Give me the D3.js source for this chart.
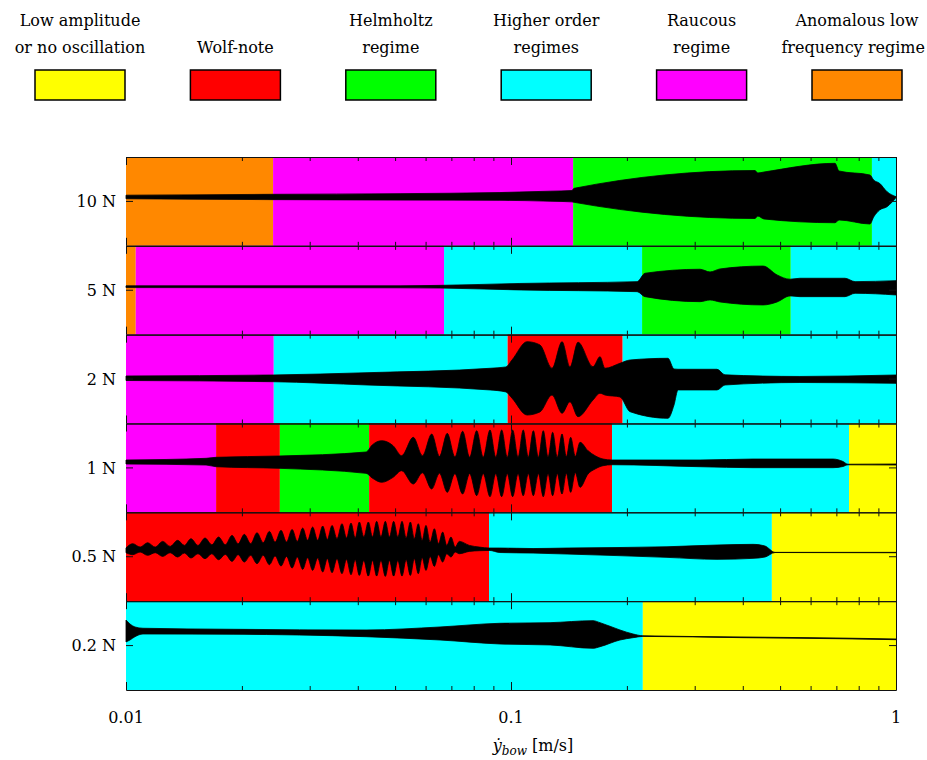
<!DOCTYPE html>
<html>
<head>
<meta charset="utf-8">
<script src="https://cdn.jsdelivr.net/npm/d3@7"></script>
<style>
  body { margin: 0; background: #fff; }
  text { font-family: "DejaVu Serif", serif; fill: #000; }
</style>
</head>
<body>
<div class="canvas"></div>
<script>
// regimes: 0 low amp, 1 wolf, 2 helmholtz, 3 higher order, 4 raucous, 5 anomalous
const regimeLabels = [
  ["Low amplitude", "or no oscillation"],
  ["Wolf-note"],
  ["Helmholtz", "regime"],
  ["Higher order", "regimes"],
  ["Raucous", "regime"],
  ["Anomalous low", "frequency regime"],
];
const regimeColors = ["#ffff00", "#ff0000", "#00ff00", "#00ffff", "#ff00ff", "#ff8800"];

const rowLabels = ["10 N", "5 N", "2 N", "1 N", "0.5 N", "0.2 N"];

// [from, to, regime] in m/s
const bands10N = [[0.01, 0.0241, 5], [0.0241, 0.145, 4], [0.145, 0.866, 2], [0.866, 1, 3]];
const bands5N = [[0.01, 0.0106, 5], [0.0106, 0.067, 4], [0.067, 0.219, 3], [0.219, 0.533, 2], [0.533, 1, 3]];
const bands2N = [[0.01, 0.0242, 4], [0.0242, 0.098, 3], [0.098, 0.195, 1], [0.195, 1, 3]];
const bands1N = [[0.01, 0.01714, 4], [0.01714, 0.0251, 1], [0.0251, 0.0428, 2], [0.0428, 0.183, 1], [0.183, 0.755, 3], [0.755, 1, 0]];
const bands05N = [[0.01, 0.0877, 1], [0.0877, 0.476, 3], [0.476, 1, 0]];
const bands02N = [[0.01, 0.22, 3], [0.22, 1, 0]];

// waveform envelope: [velocity, upper, lower] (normalised amplitude)
const env10N = [
  [0.01, 0.14, 0.06], [0.0241, 0.16, 0.04], [0.0515, 0.175, 0.03], [0.0936, 0.2, 0.025],
  [0.1263, 0.23, 0.005], [0.144, 0.245, -0.01], [0.1458, 0.295, -0.02], [0.4303, 0.696, -0.385],
  [0.4375, 0.64, -0.33], [0.4541, 0.662, -0.396], [0.6943, 0.858, -0.48], [0.7113, 0.685, -0.419],
  [0.8557, 0.595, -0.509], [0.8749, 0.482, -0.351], [0.9065, 0.408, -0.194], [0.948, 0.218, -0.119],
  [1.0, 0.106, 0.088],
];
const env5N = [
  [0.01, 0.1, 0.06], [0.0515, 0.1, 0.055], [0.0654, 0.11, 0.05], [0.1055, 0.153, 0.007],
  [0.2126, 0.194, -0.032], [0.2229, 0.383, -0.144], [0.3097, 0.473, -0.257], [0.3288, 0.412, -0.218],
  [0.3491, 0.48, -0.264], [0.4515, 0.545, -0.331], [0.4909, 0.345, -0.264], [0.5305, 0.248, -0.128],
  [0.563, 0.27, -0.144], [0.737, 0.27, -0.144], [0.7827, 0.194, -0.068], [1.0, 0.216, -0.106],
];
const env2N = [
  [0.01, 0.07, -0.032], [0.0241, 0.092, -0.059], [0.04227, 0.144, -0.133], [0.0882, 0.243, -0.245],
  [0.097, 0.273, -0.29], [0.1006, 0.43, -0.43], [0.1101, 0.842, -0.809], [0.1189, 0.77, -0.74],
  [0.1278, 0.243, -0.358], [0.1357, 0.842, -0.77], [0.1423, 0.273, -0.509], [0.1493, 0.829, -0.847],
  [0.1633, 0.279, -0.471], [0.1703, 0.505, -0.32], [0.1754, 0.243, -0.358], [0.1919, 0.356, -0.403],
  [0.2038, 0.43, -0.734], [0.2557, 0.468, -0.883], [0.2651, 0.227, -0.583], [0.2716, 0.221, -0.245],
  [0.3428, 0.221, -0.245], [0.3596, 0.095, -0.133], [0.563, 0.059, -0.077], [1.0, 0.092, -0.095],
];
const env1N = [
  [0.01, 0.178, 0.088], [0.01614, 0.216, 0.065], [0.01714, 0.239, 0.027], [0.02497, 0.268, -0.009],
  [0.04202, 0.358, -0.122], [0.0436, 0.516, -0.227], [0.04615, 0.613, -0.324], [0.0494, 0.5, -0.212],
  [0.052, 0.275, -0.063], [0.05574, 0.689, -0.363], [0.0589, 0.275, -0.11], [0.06223, 0.764, -0.475],
  [0.0652, 0.26, -0.12], [0.06831, 0.779, -0.55], [0.0715, 0.25, -0.13], [0.07489, 0.824, -0.588],
  [0.0781, 0.24, -0.13], [0.08145, 0.838, -0.626], [0.0847, 0.24, -0.13], [0.0882, 0.854, -0.649],
  [0.0913, 0.24, -0.13], [0.09458, 0.854, -0.649], [0.0978, 0.24, -0.13], [0.101, 0.854, -0.649],
  [0.1043, 0.24, -0.13], [0.1076, 0.854, -0.626], [0.1109, 0.24, -0.13], [0.1143, 0.838, -0.626],
  [0.1178, 0.24, -0.13], [0.1213, 0.838, -0.649], [0.1248, 0.24, -0.13], [0.1283, 0.802, -0.626],
  [0.1319, 0.24, -0.13], [0.1357, 0.764, -0.588], [0.1392, 0.25, -0.12], [0.1429, 0.689, -0.55],
  [0.1469, 0.26, -0.11], [0.1511, 0.577, -0.437], [0.1585, 0.387, -0.137], [0.1653, 0.275, -0.025],
  [0.1734, 0.2, 0.05], [0.1829, 0.178, 0.072], [0.3097, 0.178, 0.027], [0.4252, 0.2, 0.005],
  [0.6861, 0.2, 0.005], [0.7283, 0.144, 0.032], [0.7505, 0.083, 0.07], [1.0, 0.088, 0.065],
];
const env05N = [
  [0.01, 0.2, 0.09],
  [0.01041, 0.294, 0.046], [0.01088, 0.218, 0.106], [0.01138, 0.316, 0.031], [0.01191, 0.218, 0.091],
  [0.01245, 0.346, 0.008], [0.01302, 0.233, 0.091], [0.01362, 0.369, -0.007], [0.01418, 0.256, 0.083],
  [0.01475, 0.406, -0.029], [0.01538, 0.256, 0.068], [0.01604, 0.421, -0.044], [0.01671, 0.271, 0.068],
  [0.0174, 0.444, -0.067], [0.01811, 0.271, 0.053], [0.01885, 0.481, -0.104], [0.01956, 0.294, 0.046],
  [0.02029, 0.504, -0.119], [0.02108, 0.294, 0.031], [0.02189, 0.541, -0.157], [0.02272, 0.316, 0.031],
  [0.02357, 0.571, -0.179], [0.0244, 0.331, 0.016], [0.02527, 0.594, -0.209], [0.02612, 0.331, 0.008],
  [0.027, 0.616, -0.255], [0.02786, 0.346, -0.007], [0.02877, 0.646, -0.285], [0.02963, 0.369, -0.022],
  [0.03053, 0.669, -0.307], [0.03147, 0.369, -0.029], [0.03243, 0.691, -0.345], [0.03334, 0.391, -0.044],
  [0.03429, 0.706, -0.36], [0.03532, 0.406, -0.044], [0.03639, 0.744, -0.382], [0.03739, 0.421, -0.059],
  [0.03841, 0.759, -0.405], [0.03938, 0.421, -0.067], [0.04037, 0.782, -0.42], [0.04147, 0.444, -0.082],
  [0.0426, 0.782, -0.435], [0.04369, 0.444, -0.082], [0.04478, 0.797, -0.435], [0.04595, 0.444, -0.082],
  [0.04716, 0.797, -0.442], [0.04834, 0.444, -0.082], [0.04957, 0.797, -0.435], [0.05083, 0.444, -0.082],
  [0.05211, 0.797, -0.435], [0.05342, 0.421, -0.067], [0.05478, 0.782, -0.42], [0.05609, 0.406, -0.044],
  [0.05744, 0.744, -0.382], [0.05878, 0.369, -0.022], [0.06013, 0.706, -0.307], [0.06166, 0.331, 0.008],
  [0.06323, 0.631, -0.217], [0.06482, 0.294, 0.046], [0.06644, 0.556, -0.119], [0.06811, 0.256, 0.068],
  [0.06984, 0.444, -0.007], [0.07161, 0.218, 0.106], [0.0734, 0.346, 0.068],
  [0.07794, 0.256, 0.121], [0.08273, 0.218, 0.136], [0.08782, 0.196, 0.143], [0.0936, 0.196, 0.095],
  [0.1141, 0.185, 0.083], [0.1398, 0.196, 0.061], [0.2542, 0.225, -0.014], [0.3428, 0.264, -0.059],
  [0.4252, 0.279, -0.036], [0.4568, 0.241, -0.007], [0.485, 0.099, 0.095], [1.0, 0.099, 0.09],
];
const env02N = [
  [0.01, 0.574, 0.081], [0.01024, 0.486, 0.126], [0.01055, 0.419, 0.2], [0.01107, 0.39, 0.261],
  [0.01897, 0.367, 0.255], [0.04202, 0.351, 0.2], [0.0654, 0.419, 0.126], [0.0936, 0.502, 0.036],
  [0.1263, 0.516, 0.014], [0.1633, 0.561, -0.061], [0.1703, 0.516, -0.025], [0.1919, 0.351, 0.126],
  [0.2075, 0.261, 0.178], [0.22, 0.221, 0.207], [0.4005, 0.194, 0.178], [0.7027, 0.171, 0.155],
  [1.0, 0.149, 0.133],
];

const majorTicks = [0.01, 0.1, 1];
const xTickLabels = ["0.01", "0.1", "1"];

const rows = [
  { label: rowLabels[0], bands: bands10N, env: env10N },
  { label: rowLabels[1], bands: bands5N, env: env5N },
  { label: rowLabels[2], bands: bands2N, env: env2N },
  { label: rowLabels[3], bands: bands1N, env: env1N },
  { label: rowLabels[4], bands: bands05N, env: env05N },
  { label: rowLabels[5], bands: bands02N, env: env02N },
];

const margin = { top: 157, bottom: 70, left: 126, right: 31 };
const width = 927;
const height = 760;

const svg = d3
  .select(".canvas")
  .append("svg")
  .attr("width", width)
  .attr("height", height);

// scales
const x = d3.scaleLog().domain([0.01, 1]).range([margin.left, width - margin.right]);
const row = d3.scaleBand().domain(rowLabels).range([margin.top, height - margin.bottom]);
const y = d3.scaleLinear().domain([-1, 1]).range([row.bandwidth(), 0]);

const minorTicks = x.ticks().filter((t) => !majorTicks.includes(t));

// legend
const legendX = d3.scalePoint().domain(d3.range(regimeLabels.length)).range([80, 857]);
const legend = svg
  .selectAll(".legend")
  .data(regimeLabels)
  .enter()
  .append("g")
  .attr("class", "legend")
  .attr("transform", (d, i) => `translate(${legendX(i)},0)`);

legend
  .append("rect")
  .attr("x", -45)
  .attr("y", 70)
  .attr("width", 90)
  .attr("height", 30)
  .attr("fill", (d, i) => regimeColors[i])
  .attr("stroke", "#000")
  .attr("stroke-width", 1.5);

legend
  .selectAll("text")
  .data((d) => d.map((line, j) => ({ line, k: d.length - 1 - j })))
  .enter()
  .append("text")
  .attr("text-anchor", "middle")
  .attr("y", (d) => 53 - d.k * 27)
  .style("font-size", "16px")
  .text((d) => d.line);

// pull in any legend line that would run off the right edge
legend.selectAll("text").each(function () {
  const g = this.parentNode.getCTM();
  const b = this.getBBox();
  const over = g.e + b.x + b.width - (width - 2);
  if (over > 0) d3.select(this).attr("x", -over);
});

// area for the envelope
const area = d3
  .area()
  .x((d) => x(d[0]))
  .y0((d) => y(d[2]))
  .y1((d) => y(d[1]))
  .curve(d3.curveMonotoneX);

const panels = svg
  .selectAll(".panel")
  .data(rows)
  .enter()
  .append("g")
  .attr("class", "panel")
  .attr("transform", (d) => `translate(0,${row(d.label)})`);

// regime backgrounds
panels
  .selectAll("rect")
  .data((d) => d.bands)
  .enter()
  .append("rect")
  .attr("x", (d) => x(d[0]))
  .attr("width", (d) => x(d[1]) - x(d[0]))
  .attr("y", 0)
  .attr("height", row.bandwidth())
  .attr("fill", (d) => regimeColors[d[2]]);

// waveform envelope
panels
  .append("path")
  .attr("d", (d) => area(d.env))
  .attr("fill", "#000")
  .attr("stroke", "#000")
  .attr("stroke-width", 0.8);

// inward ticks on top and bottom edges
panels.each(function () {
  const g = d3.select(this);
  const addAxis = (axis, ty) =>
    g.append("g")
      .attr("transform", `translate(0,${ty})`)
      .call(axis.tickFormat("").tickSizeOuter(0))
      .call((a) => a.selectAll("line, path").attr("stroke", "#111"));
  addAxis(d3.axisBottom(x).tickValues(minorTicks).tickSize(4), 0);
  addAxis(d3.axisBottom(x).tickValues(majorTicks).tickSize(8), 0);
  addAxis(d3.axisTop(x).tickValues(minorTicks).tickSize(4), row.bandwidth());
  addAxis(d3.axisTop(x).tickValues(majorTicks).tickSize(8), row.bandwidth());
});

// zero ticks on both sides
panels
  .append("line")
  .attr("x1", x(0.01))
  .attr("x2", x(0.01) + 7)
  .attr("y1", y(0))
  .attr("y2", y(0))
  .attr("stroke", "#111");
panels
  .append("line")
  .attr("x1", x(1) - 7)
  .attr("x2", x(1))
  .attr("y1", y(0))
  .attr("y2", y(0))
  .attr("stroke", "#111");

// row labels
panels
  .append("text")
  .attr("x", margin.left - 10)
  .attr("y", y(0))
  .attr("dy", "0.35em")
  .attr("text-anchor", "end")
  .style("font-size", "16px")
  .text((d) => d.label);

// right frame line
svg
  .append("line")
  .attr("x1", x(1) + 0.5)
  .attr("x2", x(1) + 0.5)
  .attr("y1", margin.top)
  .attr("y2", height - margin.bottom)
  .attr("stroke", "#111");

// x tick labels
svg
  .selectAll(".xlabel")
  .data(majorTicks)
  .enter()
  .append("text")
  .attr("class", "xlabel")
  .attr("x", (d) => x(d))
  .attr("y", 723)
  .attr("text-anchor", "middle")
  .style("font-size", "16px")
  .text((d, i) => xTickLabels[i]);

// axis title
const title = svg
  .append("text")
  .attr("x", x(0.1) + 22)
  .attr("y", 751)
  .attr("text-anchor", "middle")
  .style("font-size", "16px");
title.append("tspan").style("font-style", "italic").text("\u1E8F");
title.append("tspan").style("font-style", "italic").style("font-size", "12px").attr("dy", 4).text("bow");
title.append("tspan").attr("dy", -4).text(" [m/s]");
</script>
</body>
</html>
